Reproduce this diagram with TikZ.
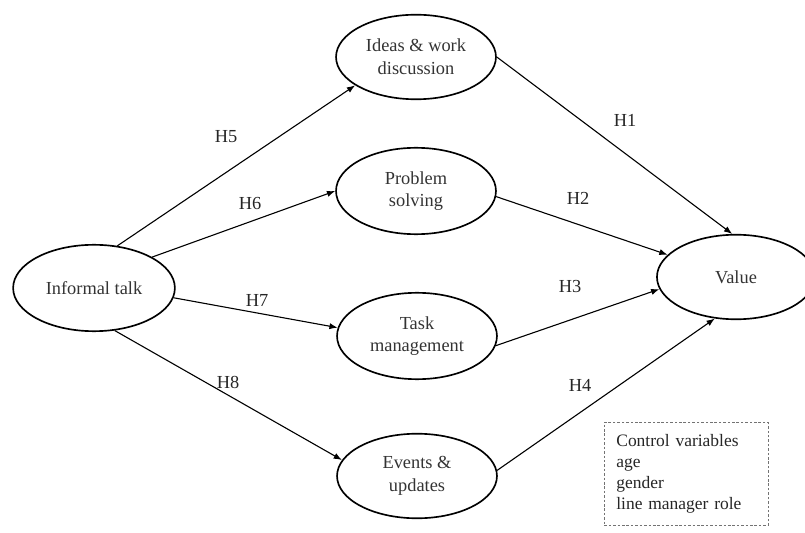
\documentclass[tikz,border=0pt]{standalone}
\usepackage{fontspec}
\setmainfont{Liberation Serif}
\usetikzlibrary{arrows.meta,shapes.geometric}

\tikzset{
construct/.style={draw,ellipse,line width=0.9pt,minimum width=87pt,minimum height=46pt,inner sep=0pt,align=center,text=black!80,font=\fontsize{10}{12.3}\selectfont},
hyp/.style={-{Latex[length=4.5pt,width=3.4pt]},line width=0.6pt},
hlabel/.style={inner sep=1pt,text=black!85,font=\fontsize{10}{12}\selectfont},
ctrlbox/.style={draw=black!55,line width=0.45pt,dash pattern=on 1.4pt off 1pt,anchor=north west,text width=76pt,inner xsep=6.5pt,inner ysep=0pt,minimum height=56pt,align=left,text=black!85,font=\fontsize{9.5}{11.3}\selectfont}
}

\begin{document}
\begin{tikzpicture}[x=0.544pt,y=-0.544pt]
\useasboundingbox (0,0) rectangle (805,533);

\node[construct,minimum width=88pt,minimum height=47pt] (inf) at (94,288) {Informal talk};
\node[construct] (ideas) at (416,57) {Ideas \& work\\discussion};
\node[construct,minimum height=47pt] (prob) at (416,191) {Problem\\solving};
\node[construct,minimum height=47pt] (task) at (417,336) {Task\\management};
\node[construct] (events) at (417,476) {Events \&\\updates};
\node[construct,minimum width=86pt] (value) at (736,277) {Value};

% control variables
\node[ctrlbox] (ctrl) at (604,422) {Control variables\\age\\gender\\line manager role};

\draw[hyp] (inf.61) -- (ideas.205);
\draw[hyp] (inf.28) -- (prob.180);
\draw[hyp] (inf.-7) -- (task.174);
\draw[hyp] (inf.-64) -- (events.168);

\draw[hyp] (ideas.0) -- (value.95);
\draw[hyp] (prob.-4) -- (value.162);
\draw[hyp] (task.-7) -- (value.189);
\draw[hyp] (events.4) -- (value.243);

\node[hlabel] (h5) at (226,137) {H5};
\node[hlabel] (h6) at (250,204) {H6};
\node[hlabel] (h7) at (257,300) {H7};
\node[hlabel] (h8) at (228,382) {H8};
\node[hlabel] (h1) at (625,120) {H1};
\node[hlabel] (h2) at (578,198) {H2};
\node[hlabel] (h3) at (570,287) {H3};
\node[hlabel] (h4) at (580,385) {H4};
\end{tikzpicture}
\end{document}
